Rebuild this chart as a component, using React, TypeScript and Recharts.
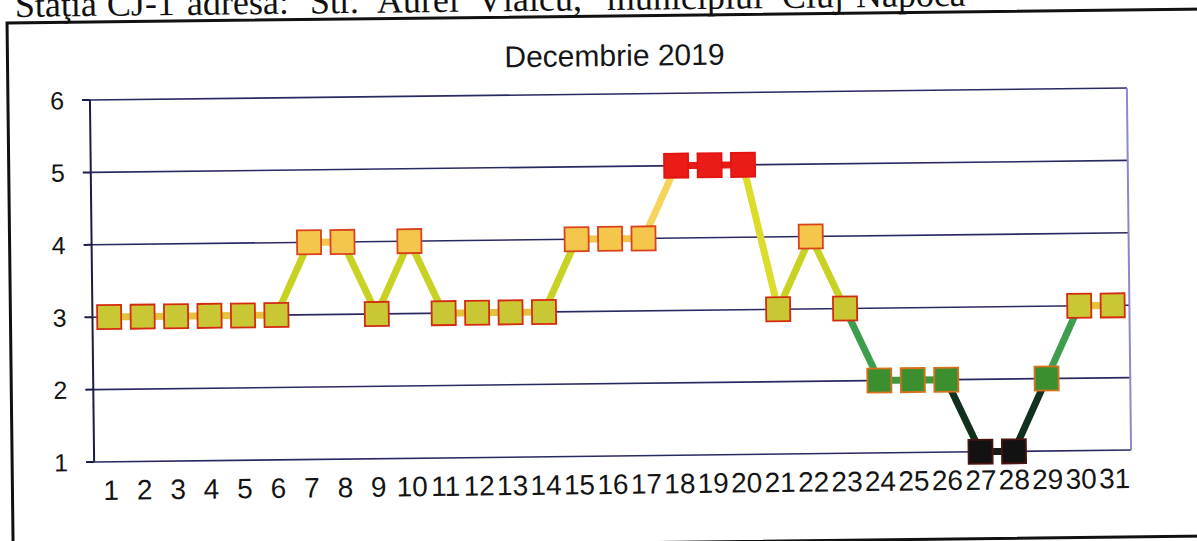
import React from 'react';
import { LineChart, Line, XAxis, YAxis, CartesianGrid, ReferenceLine } from 'recharts';

// ---- data ----
const days = [1, 2, 3, 4, 5, 6, 7, 8, 9, 10, 11, 12, 13, 14, 15, 16, 17, 18, 19, 20, 21, 22, 23, 24, 25, 26, 27, 28, 29, 30, 31];
const aqIndex = [3, 3, 3, 3, 3, 3, 4, 4, 3, 4, 3, 3, 3, 3, 4, 4, 4, 5, 5, 5, 3, 4, 3, 2, 2, 2, 1, 1, 2, 3, 3];
const yTicks = [1, 2, 3, 4, 5, 6];
const chartTitle = 'Decembrie 2019';
const headerWords = ['Staţia', 'CJ-1', 'adresa:', 'Str.', 'Aurel', 'Vlaicu,', 'municipiul', 'Cluj-Napoca'];

const dayBoundaries = [...days.map((d) => d - 0.5), days[days.length - 1] + 0.5];
const data = days.map((d, i) => ({ day: d, value: aqIndex[i] }));

// ---- styles ----
const headerWordX = [18, 110, 190, 313, 380, 480, 610, 785];
const markerFill: Record<number, string> = { 1: '#121212', 2: '#3c8f2e', 3: '#c9c834', 4: '#f5c64c', 5: '#ea1c18' };
const markerStroke: Record<number, string> = { 1: '#4a1410', 2: '#d8701c', 3: '#d42a10', 4: '#d8421c', 5: '#e21410' };

const segmentColor = (a: number, b: number): string => {
  const lo = Math.min(a, b);
  const hi = Math.max(a, b);
  if (lo === hi) {
    return ({ 1: '#1a1a1a', 2: '#3a9a3a', 3: '#e6c23c', 4: '#f5c44a', 5: '#e81a16' } as Record<number, string>)[lo];
  }
  if (lo === 1) return '#12301e';
  if (lo === 2) return '#3f9e4e';
  if (lo === 3 && hi === 4) return '#c8d222';
  if (lo === 3 && hi === 5) return '#dcdc2c';
  return '#f6d45c';
};

const SQ = 24;
const renderSquare = (props: any) => {
  const { cx, cy, payload, index } = props;
  const v = payload.value as number;
  return (
    <rect
      key={`sq-${index}`}
      x={cx - SQ / 2}
      y={cy - SQ / 2}
      width={SQ}
      height={SQ}
      fill={markerFill[v]}
      stroke={markerStroke[v]}
      strokeWidth={1.8}
    />
  );
};

const axisColor = '#1c1c48';
const gridColor = '#2a2a62';
const sansFont = '"Liberation Sans", Arial, sans-serif';

const XTick = (props: any) => {
  const { x, y, payload } = props;
  return (
    <text x={x} y={y} dy={20} textAnchor="middle" fontSize={28} fontFamily={sansFont} fill="#141414">
      {payload.value}
    </text>
  );
};

const YTick = (props: any) => {
  const { x, y, payload } = props;
  return (
    <text x={x} y={y} dy={9} textAnchor="end" fontSize={25} fontFamily={sansFont} fill="#141414">
      {payload.value}
    </text>
  );
};

export default function App() {
  const nSeg = aqIndex.length - 1;
  const stops: React.ReactNode[] = [];
  for (let i = 0; i < nSeg; i++) {
    const c = segmentColor(aqIndex[i], aqIndex[i + 1]);
    stops.push(<stop key={`a${i}`} offset={i / nSeg} stopColor={c} />);
    stops.push(<stop key={`b${i}`} offset={(i + 1) / nSeg} stopColor={c} />);
  }

  return (
    <div
      style={{
        position: 'absolute',
        left: 0,
        top: 0,
        width: 1197,
        height: 541,
        background: '#ffffff',
        transform: 'rotate(-0.663deg)',
        transformOrigin: '611px 275px',
      }}
    >
      <LineChart width={1197} height={541} data={data} margin={{ top: 94, right: 68, left: 0, bottom: 45 }}>
        <defs>
          <linearGradient id="segGrad" x1="0" y1="0" x2="1" y2="0">
            {stops}
          </linearGradient>
        </defs>
        <CartesianGrid xAxisId="days" horizontal vertical={false} stroke={gridColor} strokeWidth={1.6} />
        <XAxis
          xAxisId="bounds"
          type="number"
          dataKey="day"
          domain={[0.5, 31.5]}
          ticks={dayBoundaries}
          tick={false}
          tickSize={8}
          height={0}
          stroke={axisColor}
          strokeWidth={2.5}
        />
        <XAxis
          xAxisId="days"
          type="number"
          dataKey="day"
          domain={[0.5, 31.5]}
          ticks={days}
          interval={0}
          axisLine={false}
          tickLine={false}
          tickSize={8}
          tickMargin={10}
          height={40}
          tick={XTick}
        />
        <YAxis
          type="number"
          domain={[1, 6]}
          ticks={yTicks}
          interval={0}
          width={92}
          tickSize={8}
          tickMargin={18}
          stroke={axisColor}
          strokeWidth={2}
          tick={YTick}
        />
        <ReferenceLine xAxisId="bounds" x={31.5} stroke="#8a8ac8" strokeWidth={2} />
        <Line
          xAxisId="days"
          type="linear"
          dataKey="value"
          stroke="url(#segGrad)"
          strokeWidth={7}
          dot={renderSquare}
          activeDot={false}
          isAnimationActive={false}
        />
      </LineChart>
      <svg
        width={1197}
        height={541}
        style={{ position: 'absolute', left: 0, top: 0, pointerEvents: 'none', overflow: 'visible' }}
      >
        <text y={10} fontFamily='"Liberation Serif", "Times New Roman", serif' fontSize={36} fill="#111">
          {headerWords.map((w, i) => (
            <tspan key={w} x={headerWordX[i]}>
              {w}
            </tspan>
          ))}
        </text>
        <rect x={10} y={16} width={1400} height={527} fill="none" stroke="#111" strokeWidth={3} />
        <text x={617} y={66} textAnchor="middle" fontFamily={sansFont} fontSize={30} fill="#161616">
          {chartTitle}
        </text>
      </svg>
    </div>
  );
}
